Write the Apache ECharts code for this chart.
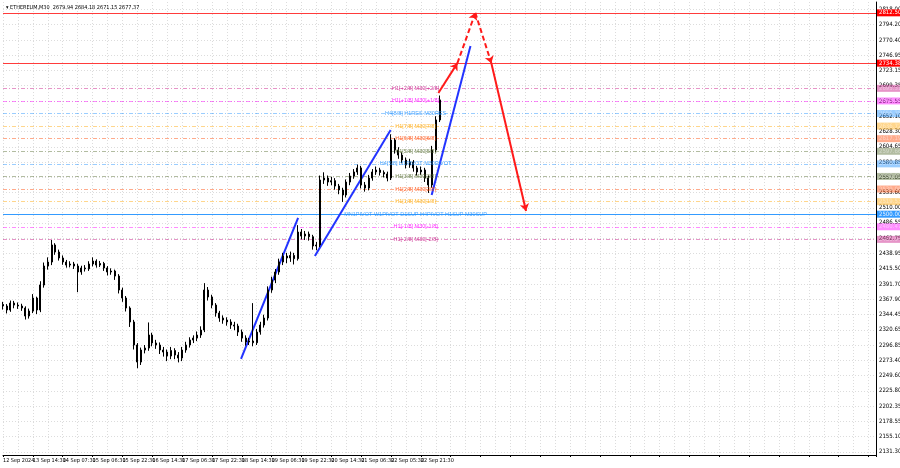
<!DOCTYPE html>
<html><head><meta charset="utf-8">
<script src="https://cdn.jsdelivr.net/npm/echarts@6/dist/echarts.min.js"></script>
<style>html,body{margin:0;padding:0;background:#fff}#c{width:900px;height:468px}</style>
</head><body><div id="c"></div>
<script>
// ---------- data ----------
const symbolTitle = 'ETHEREUM,M30  2679.94 2684.18 2671.15 2677.37';
const timeTicks = ['12 Sep 2024','13 Sep 14:30','14 Sep 07:30','15 Sep 06:30','15 Sep 22:30','16 Sep 14:30','17 Sep 06:30','17 Sep 22:30','18 Sep 14:30','19 Sep 06:30','19 Sep 22:30','20 Sep 14:30','21 Sep 06:30','22 Sep 05:30','22 Sep 21:30'];
const slotsPerTick = 8;
const totalSlots = 235;

const candleOpen = [2360.0,2357.5,2351.3,2362.1,2359.0,2357.5,2354.4,2342.0,2349.7,2369.9,
2351.3,2390.1,2419.6,2425.8,2452.2,2441.3,2432.0,2425.8,2421.1,2422.7,
2419.6,2410.3,2416.5,2415.2,2422.7,2427.3,2421.1,2423.5,2416.5,2410.3,
2411.8,2404.0,2382.3,2369.9,2354.4,2332.7,2297.0,2270.6,2289.2,2292.3,
2312.5,2300.1,2297.0,2289.2,2286.1,2279.9,2288.4,2281.4,2276.8,2289.2,
2297.0,2304.7,2307.8,2312.5,2320.2,2382.3,2371.5,2359.0,2346.6,2338.9,
2335.8,2332.7,2328.0,2326.4,2317.1,2307.8,2301.6,2303.2,2300.5,2317.1,
2328.0,2338.9,2382.3,2397.8,2410.3,2425.8,2435.1,2432.0,2436.0,2431.0,
2472.3,2466.1,2469.2,2465.0,2450.6,2452.2,2553.0,2556.1,2549.9,2552.0,
2543.7,2537.5,2529.8,2549.9,2559.2,2565.5,2571.7,2545.3,2540.6,2556.1,
2565.5,2568.6,2564.8,2562.4,2556.1,2615.1,2599.6,2591.8,2584.1,2576.3,
2581.0,2571.7,2565.5,2568.6,2556.1,2545.3,2599.6,2646.2];
const candleClose = [2357.5,2351.3,2362.1,2359.0,2357.5,2354.4,2342.0,2349.7,2369.9,2351.3,
2390.1,2419.6,2425.8,2452.2,2441.3,2432.0,2425.8,2421.1,2422.7,2419.6,
2410.3,2416.5,2415.2,2422.7,2427.3,2421.1,2423.5,2416.5,2410.3,2411.8,
2404.0,2382.3,2369.9,2354.4,2332.7,2297.0,2270.6,2289.2,2292.3,2312.5,
2300.1,2297.0,2289.2,2286.1,2279.9,2288.4,2281.4,2276.8,2289.2,2297.0,
2304.7,2307.8,2312.5,2320.2,2382.3,2371.5,2359.0,2346.6,2338.9,2335.8,
2332.7,2328.0,2326.4,2317.1,2307.8,2301.6,2303.2,2300.5,2317.1,2328.0,
2338.9,2382.3,2397.8,2410.3,2425.8,2435.1,2432.0,2436.0,2431.0,2472.3,
2466.1,2469.2,2465.0,2450.6,2452.2,2553.0,2556.1,2549.9,2552.0,2543.7,
2537.5,2529.8,2549.9,2559.2,2565.5,2571.7,2545.3,2540.6,2556.1,2565.5,
2568.6,2564.8,2562.4,2556.1,2615.1,2599.6,2591.8,2584.1,2576.3,2581.0,
2571.7,2565.5,2568.6,2556.1,2545.3,2599.6,2646.2,2677.37];
const candleHigh = [2364.0,2360.5,2366.0,2365.5,2363.0,2361.0,2357.0,2353.5,2376.0,2372.0,
2396.0,2425.0,2433.0,2460.0,2455.0,2445.0,2436.0,2429.0,2427.0,2426.0,
2423.0,2420.0,2421.0,2427.0,2433.0,2430.0,2427.5,2426.0,2419.5,2416.0,
2414.0,2407.0,2386.0,2373.0,2357.0,2336.0,2300.0,2293.0,2297.0,2332.0,
2316.0,2305.0,2301.0,2294.0,2290.0,2294.0,2292.0,2286.0,2294.0,2302.0,
2309.0,2312.0,2318.0,2326.0,2393.0,2387.0,2375.0,2362.0,2350.0,2343.0,
2340.0,2337.0,2333.0,2330.0,2321.0,2312.0,2308.0,2362.0,2322.0,2333.0,
2344.0,2388.0,2403.0,2415.0,2431.0,2440.0,2440.0,2442.0,2440.0,2483.0,
2477.0,2474.0,2473.0,2468.0,2457.0,2560.0,2565.0,2560.0,2558.0,2556.0,
2547.0,2541.0,2554.0,2564.0,2570.0,2577.0,2575.0,2550.0,2561.0,2570.0,
2574.0,2572.0,2568.0,2566.0,2624.0,2618.0,2604.0,2596.0,2588.0,2586.0,
2584.0,2575.0,2574.0,2572.0,2560.0,2606.0,2652.0,2684.18];
const candleLow = [2352.0,2346.0,2348.5,2354.0,2353.0,2350.0,2336.5,2338.0,2346.5,2345.0,
2348.0,2386.0,2414.0,2421.0,2437.0,2428.0,2421.5,2417.0,2417.5,2415.0,
2379.0,2406.0,2411.0,2412.0,2419.0,2417.0,2418.0,2412.0,2405.0,2406.0,
2398.0,2377.0,2364.0,2349.0,2325.0,2290.0,2261.0,2266.0,2284.0,2288.0,
2295.0,2291.0,2283.0,2279.0,2272.0,2275.0,2275.0,2270.0,2272.0,2285.0,
2293.0,2300.0,2303.0,2308.0,2317.0,2366.0,2354.0,2341.0,2333.0,2330.0,
2327.0,2322.0,2320.0,2311.0,2302.0,2296.0,2297.0,2295.0,2297.0,2313.0,
2324.0,2335.0,2378.0,2393.0,2406.0,2421.0,2424.0,2426.0,2422.0,2428.0,
2461.0,2460.0,2459.0,2445.0,2444.0,2449.0,2547.0,2544.0,2545.0,2538.0,
2531.0,2519.0,2526.0,2545.0,2555.0,2561.0,2540.0,2535.0,2537.0,2552.0,
2561.0,2560.0,2557.0,2551.0,2553.0,2594.0,2586.0,2579.0,2571.0,2572.0,
2566.0,2560.0,2561.0,2550.0,2533.0,2541.0,2596.0,2643.0];

const priceTicks = [2818.00,2794.20,2770.40,2746.95,2723.15,2699.35,2675.55,2652.10,2628.30,2604.65,
2580.85,2557.05,2533.60,2510.00,2486.55,2462.75,2438.95,2415.50,2391.70,2367.90,
2344.45,2320.65,2296.85,2273.40,2249.60,2225.80,2202.35,2178.55,2155.10,2131.30];

const levelValues = [2695.31,2675.78,2656.25,2636.72,2617.19,2597.66,2578.12,2558.59,2539.06,2519.53,2500.00,2480.47,2460.94];
const levelNames = ['H1[+2/8] M30[+2/8]','H1[+1/8] M30[+1/8]','H4[8/8] H1RES M30RES','H1[7/8] M30[7/8]','H1[6/8] M30[6/8]','H1[5/8] M30[5/8]','H4[5/8] H1PIVOT M30PIVOT','H1[3/8] M30[3/8]','H1[2/8] M30[2/8]','H1[1/8] M30[1/8]','MN1PIVOT W1PIVOT D1SUP H4PIVOT H1SUP M30SUP','H1[-1/8] M30[-1/8]','H1[-2/8] M30[-2/8]'];
const levelColors = ['#c71585','#ff00ff','#1e90ff','#ffa500','#ff4500','#556b2f','#1e90ff','#556b2f','#ff4500','#ffa500','#1e90ff','#ff00ff','#c71585'];
const redLevels = [2812.50, 2734.38];
const currentPrice = 2677.37;
const levelTextSlot = 110.6;

const blueTrendStart = [[63.8,2275.3],[83.6,2435.1],[114.9,2529.8]];
const blueTrendEnd   = [[79.1,2494.1],[103.9,2630.7],[125.3,2761.0]];
const forecastPath = [[116.7,2688.0],[121.8,2734.4],[126.6,2812.5],[130.9,2734.4],[140.2,2505.0]];
const forecastDashed = [false,true,true,false];

// ---------- build ----------
const NARROW = "'Liberation Sans Narrow','DejaVu Sans Condensed','Liberation Sans',sans-serif";
const FONT = "'Liberation Sans',sans-serif";
const cats = [];
for (let i = 0; i < totalSlots; i++) cats.push('s' + i);
const ohlc = candleOpen.map((o, i) => [o, candleClose[i], candleLow[i], candleHigh[i]]);

const tickLines = priceTicks.map(v => ({ yAxis: v, label: { formatter: v.toFixed(2) } }));

const levelLines = levelValues.map((v, i) => ({
  yAxis: v,
  lineStyle: { color: levelColors[i], type: v === 2500 ? 'solid' : [4, 2, 1, 2], width: 1, opacity: v === 2500 ? 0.9 : 0.45 },
  label: { formatter: v.toFixed(2), backgroundColor: levelColors[i] }
}));
levelLines.push({
  yAxis: currentPrice,
  lineStyle: { opacity: 0 },
  label: { formatter: currentPrice.toFixed(2), backgroundColor: '#000', offset: [0, -3] }
});

const trendSegs = blueTrendStart.map((s, i) => [
  { coord: s }, { coord: blueTrendEnd[i] }
]);
const fcSegs = [];
for (let i = 0; i < forecastPath.length - 1; i++) {
  fcSegs.push([
    { coord: forecastPath[i], lineStyle: { type: forecastDashed[i] ? [5, 3] : 'solid' } },
    { coord: forecastPath[i + 1] }
  ]);
}
// red horizontal levels drawn as full-width segments
const redSegs = redLevels.map(v => [
  { coord: [0, v] }, { coord: [totalSlots - 1, v] }
]);

const levelTextData = levelValues.map((v, i) => ({
  value: [levelTextSlot, v],
  label: { color: levelColors[i] }
}));

const chart = echarts.init(document.getElementById('c'), null, { renderer: 'canvas' });
chart.setOption({
  animation: false,
  backgroundColor: '#fff',
  textStyle: { fontFamily: FONT },
  title: {
    text: '\u25BE ' + symbolTitle,
    left: 1, top: 0,
    textStyle: { fontSize: 5.5, fontWeight: 'normal', color: '#000', fontFamily: NARROW }
  },
  grid: { left: 0, right: 24, top: 2, bottom: 13 },
  xAxis: [{
    type: 'category', data: cats, boundaryGap: false,
    axisLine: { show: true, lineStyle: { color: '#000', width: 1 } },
    axisTick: { show: true, interval: slotsPerTick - 1, length: 2, lineStyle: { color: '#000' } },
    axisLabel: {
      interval: 0, margin: 3, align: 'left', fontSize: 5.5, color: '#000', fontFamily: NARROW,
      formatter: (v, idx) => (idx % slotsPerTick === 0 && timeTicks[idx / slotsPerTick]) ? timeTicks[idx / slotsPerTick] : ''
    },
    splitLine: { show: true, interval: 3, lineStyle: { color: '#dcdcdc', type: [1, 2] } }
  }, {
    type: 'value', min: 0, max: totalSlots - 1, show: false
  }],
  yAxis: {
    type: 'value', position: 'right', min: 2126.3, max: 2829.3, scale: true,
    axisLine: { show: true, onZero: false, lineStyle: { color: '#000' } },
    axisLabel: { show: false }, axisTick: { show: false }, splitLine: { show: false }
  },
  series: [
    {
      type: 'line', data: [], xAxisIndex: 1, z: 1, silent: true,
      markLine: {
        silent: true, symbol: 'none', animation: false,
        lineStyle: { color: '#dcdcdc', type: [1, 2], width: 1 },
        label: { position: 'end', distance: 3, fontSize: 6, color: '#000', fontFamily: NARROW },
        data: tickLines
      }
    },
    {
      type: 'line', data: [], xAxisIndex: 1, z: 3, silent: true,
      markLine: {
        silent: true, symbol: 'none', animation: false,
        label: { position: 'end', distance: 1, fontSize: 6, color: '#fff', fontFamily: NARROW, padding: [1, 2, 0, 2] },
        data: levelLines
      }
    },
    {
      type: 'line', data: [], xAxisIndex: 1, z: 3, silent: true,
      markLine: {
        silent: true, symbol: 'none', animation: false,
        lineStyle: { color: '#ff3b3b', type: 'solid', width: 1, opacity: 1 },
        label: { show: true, position: 'end', distance: 1, fontSize: 6, color: '#fff', fontFamily: NARROW,
          padding: [1, 2, 0, 2], backgroundColor: '#ff0000',
          formatter: p => p.data && p.data.coord ? Number(p.data.coord[1]).toFixed(2) : '' },
        data: redSegs
      }
    },
    {
      type: 'candlestick', data: ohlc, xAxisIndex: 0, z: 5, barWidth: 1.5,
      itemStyle: { color: '#000', color0: '#000', borderColor: '#000', borderColor0: '#000', borderWidth: 1 }
    },
    {
      type: 'scatter', xAxisIndex: 1, data: levelTextData, symbolSize: 0, z: 6, silent: true,
      label: { show: true, position: 'inside', fontSize: 5.5, fontFamily: FONT,
        formatter: p => levelNames[p.dataIndex] }
    },
    {
      type: 'line', data: [], xAxisIndex: 1, z: 8, silent: true,
      markLine: {
        silent: true, symbol: 'none', animation: false, label: { show: false },
        lineStyle: { color: '#2233ff', width: 2, type: 'solid' },
        data: trendSegs
      }
    },
    {
      type: 'line', data: [], xAxisIndex: 1, z: 9, silent: true,
      markLine: {
        silent: true, symbol: ['none', 'arrow'], symbolSize: 7, animation: false, label: { show: false },
        lineStyle: { color: '#ff1a1a', width: 2 },
        data: fcSegs
      }
    }
  ]
});
</script></body></html>
